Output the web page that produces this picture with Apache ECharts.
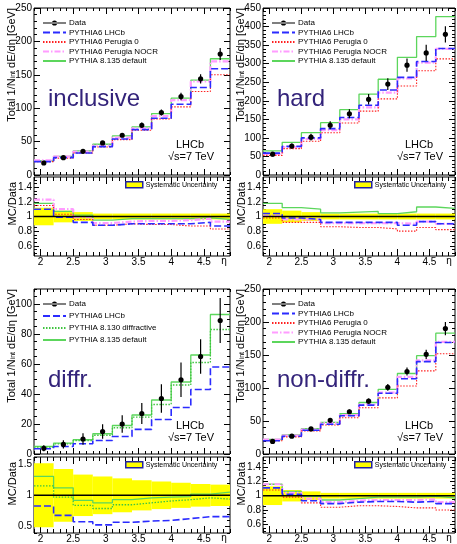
<!DOCTYPE html>
<html><head><meta charset="utf-8">
<script src="https://cdn.jsdelivr.net/npm/echarts@6/dist/echarts.min.js"></script>
<style>html,body{margin:0;padding:0;background:#fff}#c{width:457px;height:544px}</style>
</head><body><div id="c"></div>
<script>
// ---------- data ----------
const etaEdges = [1.9, 2.2, 2.5, 2.8, 3.1, 3.4, 3.7, 4.0, 4.3, 4.6, 4.9];
const etaTickLabels = [2, 2.5, 3, 3.5, 4, 4.5];

// inclusive
const incData     = [18, 26, 35.5, 48, 59.5, 74.5, 93.5, 117.5, 144, 181];
const incDataErr  = [2, 2, 2.5, 3, 3, 4, 4.5, 5.5, 7, 9];
const incLHCb     = [20, 26, 33, 42.5, 54, 68, 85, 106, 131, 159];
const incPerugia0 = [20, 25, 33, 42, 53, 67, 84, 102, 125, 150];
const incNOCR     = [22, 27.5, 35, 44, 56, 70, 88, 112, 140, 170];
const incP8135    = [21, 28, 36, 46, 58.5, 72, 92, 115, 142, 174];
const incRatLHCb  = [1.10, 0.99, 0.92, 0.88, 0.90, 0.90, 0.90, 0.90, 0.92, 0.87];
const incRatPer0  = [1.15, 1.03, 0.96, 0.88, 0.90, 0.89, 0.89, 0.87, 0.87, 0.83];
const incRatNOCR  = [1.23, 1.10, 0.99, 0.91, 0.93, 0.94, 0.94, 0.95, 0.97, 0.93];
const incRatP8135 = [1.18, 1.07, 1.02, 0.95, 0.97, 0.97, 0.97, 0.97, 0.98, 0.96];
const incSyst     = [0.12, 0.08, 0.06, 0.04, 0.04, 0.04, 0.04, 0.04, 0.04, 0.04];

// hard
const hardData     = [56, 78, 102, 134, 165, 204, 245, 296, 329, 379];
const hardDataErr  = [6, 7, 9, 11, 12, 14, 16, 18, 22, 22];
const hardLHCb     = [59, 77, 100, 125, 155, 188, 229, 263, 306, 341];
const hardPerugia0 = [53, 71, 91, 114, 140, 172, 205, 240, 281, 313];
const hardNOCR     = [57, 75, 97, 121, 150, 182, 222, 260, 303, 340];
const hardP8135    = [65, 88, 114, 141, 176, 218, 258, 317, 373, 427];
const hardRatLHCb  = [1.04, 0.98, 0.96, 0.92, 0.92, 0.92, 0.92, 0.88, 0.93, 0.90];
const hardRatPer0  = [0.98, 0.92, 0.92, 0.86, 0.85, 0.85, 0.83, 0.80, 0.85, 0.82];
const hardRatNOCR  = [1.01, 0.96, 0.96, 0.91, 0.91, 0.91, 0.91, 0.90, 0.93, 0.90];
const hardRatP8135 = [1.18, 1.12, 1.10, 1.05, 1.06, 1.07, 1.04, 1.065, 1.13, 1.11];
const hardSyst     = [0.10, 0.08, 0.06, 0.04, 0.04, 0.04, 0.04, 0.04, 0.04, 0.04];

// diffractive
const difData      = [3.8, 6.4, 10, 15, 20, 27, 37, 49.5, 65, 89];
const difDataErr   = [2, 2.8, 3.8, 4.8, 5.8, 7, 9.5, 11.5, 11.5, 15];
const difLHCb      = [3.5, 5, 6.8, 9, 11.7, 16.4, 23, 31, 43, 58];
const difP8130     = [4.6, 6.8, 9, 12.5, 17.5, 24.6, 33, 46, 61, 83];
const difP8135     = [5, 7.3, 9.5, 13.5, 19, 26, 36, 48, 66, 93];
const difRatLHCb   = [0.83, 0.68, 0.58, 0.53, 0.57, 0.59, 0.60, 0.63, 0.66, 0.66];
const difRatP8130  = [1.15, 0.97, 0.84, 0.79, 0.85, 0.88, 0.91, 0.93, 0.96, 0.94];
const difRatP8135  = [1.30, 1.12, 0.92, 0.88, 0.93, 0.96, 0.97, 0.98, 1.02, 1.05];
const difSyst      = [0.51, 0.42, 0.33, 0.30, 0.27, 0.24, 0.22, 0.20, 0.18, 0.17];

// non-diffractive
const ndData     = [19, 27, 38, 51, 64, 80, 101, 125, 151, 190];
const ndDataErr  = [2, 2, 2.5, 3, 3.5, 4, 5, 6, 7, 10];
const ndLHCb     = [20, 27, 36, 45, 58, 74, 92, 114, 140, 169];
const ndPerugia0 = [20, 26, 35, 44, 55, 70, 85, 103, 126, 152];
const ndNOCR     = [22, 28, 37, 47, 59, 75, 93, 117, 142, 170];
const ndP8135    = [22, 29, 38.5, 48, 61, 78, 98, 122, 149, 183];
const ndRatLHCb  = [1.11, 1.02, 0.93, 0.89, 0.91, 0.92, 0.92, 0.91, 0.92, 0.89];
const ndRatPer0  = [1.08, 0.98, 0.90, 0.84, 0.86, 0.86, 0.85, 0.83, 0.83, 0.80];
const ndRatNOCR  = [1.16, 1.04, 0.96, 0.91, 0.93, 0.94, 0.94, 0.94, 0.95, 0.91];
const ndRatP8135 = [1.16, 1.06, 0.99, 0.94, 0.96, 0.98, 0.98, 0.98, 0.99, 0.97];
const ndSyst     = [0.13, 0.08, 0.06, 0.04, 0.04, 0.04, 0.04, 0.04, 0.04, 0.04];

// ---------- styles ----------
const FONT = '"Liberation Sans", Arial, Helvetica, sans-serif';
const STY = {
  'PYTHIA6 LHCb':            {color:'#2b2bff', width:1.6, type:[7,3]},
  'PYTHIA6 Perugia 0':       {color:'#ff2020', width:1.1, type:[1.5,1.5]},
  'PYTHIA6 Perugia NOCR':    {color:'#ff9cff', width:2.2, type:[6,2,1.5,2]},
  'PYTHIA 8.135 default':    {color:'#5cd65c', width:1.3, type:'solid'},
  'PYTHIA 8.130 diffractive':{color:'#3fc43f', width:1.3, type:[1.5,1.5]}
};

const grids = [], xAxes = [], yAxes = [], series = [], legends = [], graphics = [];
function range(a, b, s) { const r = []; for (let v = a; v <= b + 1e-9; v += s) r.push(+v.toFixed(4)); return r; }
const centers = etaEdges.slice(0, -1).map((e, i) => (e + etaEdges[i + 1]) / 2);

function addGrid(rect, yMin, yMax, yMajorVals, yMinorStep, showXLabels, tk) {
  const gi = grids.length;
  grids.push({left: rect[0], top: rect[1], width: rect[2], height: rect[3], show: true,
    borderColor: '#000', borderWidth: 1, backgroundColor: 'transparent'});
  const xMinor = range(1.9, 4.9, 0.1);
  const yMinor = range(Math.ceil(yMin / yMinorStep) * yMinorStep, yMax, yMinorStep);
  const xi = xAxes.length, yi = yAxes.length;
  const lbl = {fontSize: 10, fontFamily: FONT, color: '#000'};
  const xa = (pos, vals, len, labels) => ({gridIndex: gi, type: 'value', min: 1.9, max: 4.9, position: pos,
    axisLine: {show: false, onZero: false}, splitLine: {show: false},
    axisTick: {show: true, inside: true, length: len, customValues: vals, lineStyle: {color: '#000', width: 1}},
    axisLabel: Object.assign({show: !!labels, customValues: vals, margin: 1}, lbl)});
  const ya = (pos, vals, len, labels) => ({gridIndex: gi, type: 'value', min: yMin, max: yMax, position: pos,
    axisLine: {show: false, onZero: false}, splitLine: {show: false},
    axisTick: {show: true, inside: true, length: len, customValues: vals, lineStyle: {color: '#000', width: 1}},
    axisLabel: Object.assign({show: !!labels, customValues: vals, margin: 2}, lbl)});
  xAxes.push(xa('bottom', etaTickLabels, tk[0], showXLabels), xa('bottom', xMinor, tk[1], false),
             xa('top', etaTickLabels, tk[0], false), xa('top', xMinor, tk[1], false));
  yAxes.push(ya('left', yMajorVals, tk[2], true), ya('left', yMinor, tk[3], false),
             ya('right', yMajorVals, tk[2], false), ya('right', yMinor, tk[3], false));
  return {xi, yi};
}

function stepSeries(ax, name, vals) {
  const s = STY[name];
  const d = vals.map((v, i) => [etaEdges[i], v]);
  d.push([etaEdges[etaEdges.length - 1], vals[vals.length - 1]]);
  return {type: 'line', name, xAxisIndex: ax.xi, yAxisIndex: ax.yi, data: d, step: 'end', symbol: 'none',
    lineStyle: {color: s.color, width: s.width, type: s.type}, itemStyle: {color: s.color, opacity: 0},
    silent: true, animation: false, z: 3, clip: true};
}
function dataSeries(ax, vals, errs) {
  return {type: 'custom', name: 'Data', xAxisIndex: ax.xi, yAxisIndex: ax.yi,
    data: centers.map((c, i) => [c, vals[i], errs[i]]), encode: {x: 0, y: 1},
    itemStyle: {color: '#000'}, z: 6, silent: true, animation: false,
    renderItem: (p, api) => {
      const x = api.value(0), y = api.value(1), e = api.value(2);
      const c = api.coord([x, y]), lo = api.coord([x, y - e]), hi = api.coord([x, y + e]);
      return {type: 'group', children: [
        {type: 'line', shape: {x1: c[0], y1: lo[1], x2: c[0], y2: hi[1]}, style: {stroke: '#000', lineWidth: 1.2}},
        {type: 'circle', shape: {cx: c[0], cy: c[1], r: 2.6}, style: {fill: '#000'}}]};
    }};
}
function bandSeries(ax, syst) {
  return {type: 'custom', name: 'Systematic Uncertainty', xAxisIndex: ax.xi, yAxisIndex: ax.yi,
    data: syst.map((s, i) => [etaEdges[i], etaEdges[i + 1], 1 - s, 1 + s]), encode: {x: [0, 1], y: [2, 3]},
    itemStyle: {color: '#ffff00'}, z: 1, silent: true, animation: false, clip: true,
    renderItem: (p, api) => {
      const a = api.coord([api.value(0), api.value(3)]), b = api.coord([api.value(1), api.value(2)]);
      return {type: 'rect', shape: {x: a[0], y: a[1], width: b[0] - a[0], height: b[1] - a[1]}, style: {fill: '#ffff00'}};
    }};
}
function unitLine(ax) {
  return {type: 'line', xAxisIndex: ax.xi, yAxisIndex: ax.yi, data: [[1.9, 1], [4.9, 1]], symbol: 'none',
    lineStyle: {color: '#000', width: 1.5}, silent: true, animation: false, z: 4};
}
const dataIcon = 'path://M0,2.1H23V2.9H0Z M8.9,2.5A2.6,2.6 0 1,0 14.1,2.5A2.6,2.6 0 1,0 8.9,2.5Z';
function mainLegend(left, top, names, gap) {
  legends.push({left, top, orient: 'vertical', padding: 0, itemGap: gap, itemWidth: 23, itemHeight: 8,
    selectedMode: false, textStyle: {fontSize: 8, fontFamily: FONT, color: '#000', padding: [0, 0, 0, -2]},
    data: [{name: 'Data', icon: dataIcon, itemStyle: {color: '#000'}}].concat(names.map(n => ({name: n})))});
}
function systLegend(left, top) {
  legends.push({left, top, orient: 'vertical', padding: 0, itemWidth: 17, itemHeight: 6, selectedMode: false,
    textStyle: {fontSize: 7, fontFamily: FONT, color: '#000', padding: [0, 0, 0, -2]},
    data: [{name: 'Systematic Uncertainty', icon: 'rect',
      itemStyle: {color: '#ffff00', borderColor: '#2323a0', borderWidth: 1.5}}]});
}
function addText(x, y, text, size, color, align, va) {
  graphics.push({type: 'text', x, y, silent: true, z: 100,
    style: {text, fontSize: size, fontFamily: FONT, fill: color, align: align || 'left', verticalAlign: va || 'middle'}});
}
function yTitle(x, top, main) {
  const text = main ? '{a|Total 1/N}{b|int}{a| dE/dη [GeV]}' : '{a|MC/Data}';
  graphics.push({type: 'text', x, y: top, rotation: Math.PI / 2, silent: true, z: 100,
    style: {text, align: 'right', verticalAlign: 'middle', fill: '#000',
      rich: {a: {fontSize: 11, fontFamily: FONT, lineHeight: 14, verticalAlign: 'bottom'},
             b: {fontSize: 7, fontFamily: FONT, lineHeight: 8, verticalAlign: 'bottom'}}}});
}

const ratioMajor = [0.6, 0.8, 1, 1.2, 1.4];
const panels = [
  {L: 34, W: 196, top: 8, mh: 167, rtop: 177, rh: 79, yMax: 250, yMaj: range(0, 250, 50), yMin5: 10,
   rMin: 0.46, rMax: 1.54, rMaj: ratioMajor, rMinor: 0.05,
   data: incData, err: incDataErr, label: 'inclusive',
   mc: [['PYTHIA 8.135 default', incP8135], ['PYTHIA6 Perugia NOCR', incNOCR], ['PYTHIA6 Perugia 0', incPerugia0], ['PYTHIA6 LHCb', incLHCb]],
   rat: [['PYTHIA 8.135 default', incRatP8135], ['PYTHIA6 Perugia NOCR', incRatNOCR], ['PYTHIA6 Perugia 0', incRatPer0], ['PYTHIA6 LHCb', incRatLHCb]],
   syst: incSyst, leg: ['PYTHIA6 LHCb', 'PYTHIA6 Perugia 0', 'PYTHIA6 Perugia NOCR', 'PYTHIA 8.135 default'], legGap: 1.5},
  {L: 263, W: 192, top: 8, mh: 167, rtop: 177, rh: 79, yMax: 450, yMaj: range(0, 450, 50), yMin5: 10,
   rMin: 0.46, rMax: 1.54, rMaj: ratioMajor, rMinor: 0.05,
   data: hardData, err: hardDataErr, label: 'hard',
   mc: [['PYTHIA 8.135 default', hardP8135], ['PYTHIA6 Perugia NOCR', hardNOCR], ['PYTHIA6 Perugia 0', hardPerugia0], ['PYTHIA6 LHCb', hardLHCb]],
   rat: [['PYTHIA 8.135 default', hardRatP8135], ['PYTHIA6 Perugia NOCR', hardRatNOCR], ['PYTHIA6 Perugia 0', hardRatPer0], ['PYTHIA6 LHCb', hardRatLHCb]],
   syst: hardSyst, leg: ['PYTHIA6 LHCb', 'PYTHIA6 Perugia 0', 'PYTHIA6 Perugia NOCR', 'PYTHIA 8.135 default'], legGap: 1.5},
  {L: 34, W: 196, top: 289, mh: 165, rtop: 457, rh: 76, yMax: 110, yMaj: range(0, 100, 20), yMin5: 5,
   rMin: 0.4, rMax: 1.61, rMaj: [0.5, 1, 1.5], rMinor: 0.1,
   data: difData, err: difDataErr, label: 'diffr.',
   mc: [['PYTHIA 8.135 default', difP8135], ['PYTHIA 8.130 diffractive', difP8130], ['PYTHIA6 LHCb', difLHCb]],
   rat: [['PYTHIA 8.135 default', difRatP8135], ['PYTHIA 8.130 diffractive', difRatP8130], ['PYTHIA6 LHCb', difRatLHCb]],
   syst: difSyst, leg: ['PYTHIA6 LHCb', 'PYTHIA 8.130 diffractive', 'PYTHIA 8.135 default'], legGap: 4},
  {L: 263, W: 192, top: 289, mh: 165, rtop: 457, rh: 76, yMax: 250, yMaj: range(0, 250, 50), yMin5: 10,
   rMin: 0.48, rMax: 1.54, rMaj: ratioMajor, rMinor: 0.05,
   data: ndData, err: ndDataErr, label: 'non-diffr.',
   mc: [['PYTHIA 8.135 default', ndP8135], ['PYTHIA6 Perugia NOCR', ndNOCR], ['PYTHIA6 Perugia 0', ndPerugia0], ['PYTHIA6 LHCb', ndLHCb]],
   rat: [['PYTHIA 8.135 default', ndRatP8135], ['PYTHIA6 Perugia NOCR', ndRatNOCR], ['PYTHIA6 Perugia 0', ndRatPer0], ['PYTHIA6 LHCb', ndRatLHCb]],
   syst: ndSyst, leg: ['PYTHIA6 LHCb', 'PYTHIA6 Perugia 0', 'PYTHIA6 Perugia NOCR', 'PYTHIA 8.135 default'], legGap: 1.5}
];

panels.forEach(P => {
  const m = addGrid([P.L, P.top, P.W, P.mh], 0, P.yMax, P.yMaj, P.yMin5, false, [6, 3, 6, 3]);
  P.mc.forEach(([n, v]) => series.push(stepSeries(m, n, v)));
  series.push(dataSeries(m, P.data, P.err));
  const r = addGrid([P.L, P.rtop, P.W, P.rh], P.rMin, P.rMax, P.rMaj, P.rMinor, true, [7, 4, 5, 3]);
  series.push(bandSeries(r, P.syst));
  P.rat.forEach(([n, v]) => series.push(stepSeries(r, n, v)));
  series.push(unitLine(r));
  mainLegend(P.L + 8, P.top + 11, P.leg, P.legGap);
  systLegend(P.L + 91, P.rtop + 4);
  addText(P.L + 14, P.top + 103, P.label, 24, '#33237a', 'left', 'bottom');
  addText(P.L + 156, P.top + 137, 'LHCb', 11, '#000', 'center');
  addText(P.L + 157, P.top + 149, '√s=7 TeV', 11, '#000', 'center');
  yTitle(P.L - 24, P.top, true);
  yTitle(P.L - 23, P.rtop + 5, false);
  addText(P.L + P.W - 6, P.rtop + P.rh + 5, 'η', 10, '#000', 'center');
});

const chart = echarts.init(document.getElementById('c'), null, {renderer: 'canvas'});
chart.setOption({animation: false, backgroundColor: '#fff', grid: grids, xAxis: xAxes, yAxis: yAxes,
  series, legend: legends, graphic: graphics});
</script></body></html>
